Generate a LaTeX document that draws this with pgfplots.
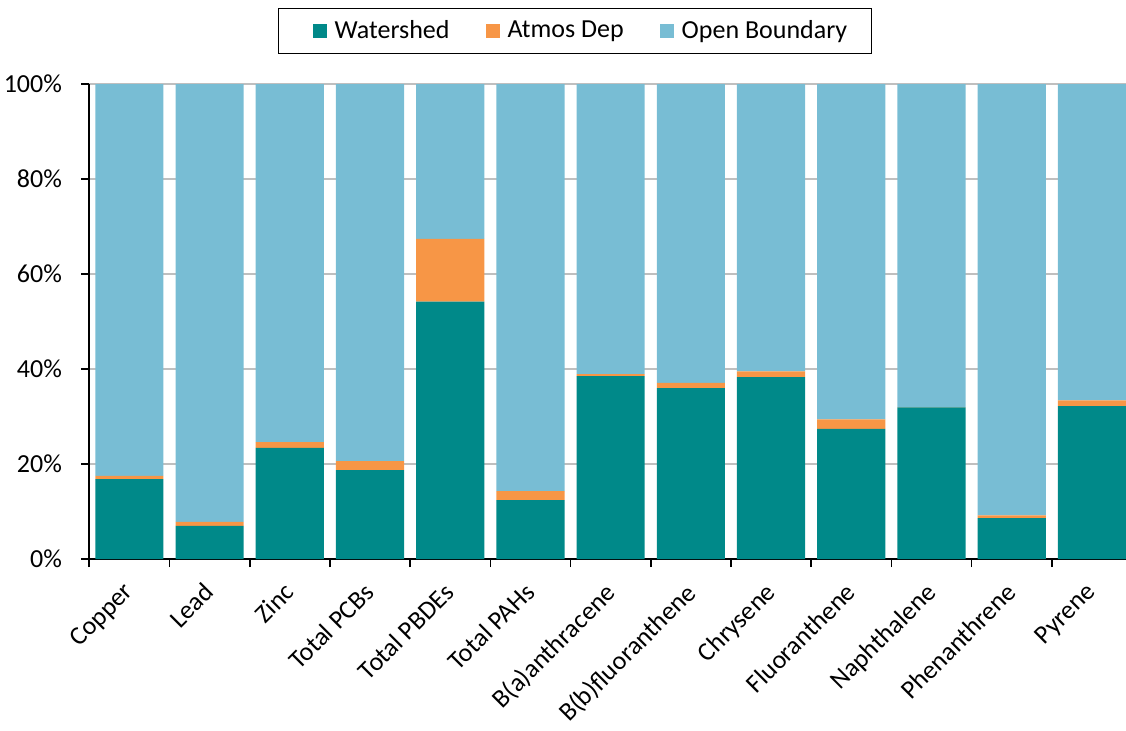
\documentclass[border=0pt]{standalone}
\usepackage{pgfplots}
\pgfplotsset{compat=1.18}
\usepackage{fontspec}
\setmainfont{Carlito}
\definecolor{ws}{RGB}{0,137,137}
\definecolor{ad}{RGB}{247,150,70}
\definecolor{ob}{RGB}{120,189,212}
\definecolor{gridc}{RGB}{191,191,191}
\begin{document}
\begin{tikzpicture}[font=\fontsize{13pt}{15pt}\selectfont]
\begin{axis}[
  scale only axis,
  width=518.35pt, height=237.5pt,
  ybar stacked, bar width=0.85,
  xmin=-0.5, xmax=12.425,
  ymin=0, ymax=100,
  axis x line*=bottom, axis y line*=left,
  axis line style={line width=1pt, black},
  xtick={0,...,12},
  xticklabels={Copper,Lead,Zinc,Total PCBs,Total PBDEs,Total PAHs,B(a)anthracene,B(b)fluoranthene,Chrysene,Fluoranthene,Naphthalene,Phenanthrene,Pyrene},
  major x tick style={draw=none},
  minor xtick={-0.5,0.5,...,11.5},
  minor x tick style={black, line width=0.8pt},
  minor tick length=4pt,
  xticklabel style={xshift=-3.5pt, yshift=-5.5pt, rotate=45, anchor=north east, inner sep=1pt},
  ytick={0,20,...,100},
  yticklabels={0\%,20\%,40\%,60\%,80\%,100\%},
  ytick style={black, line width=0.8pt},
  tick align=outside, major tick length=4pt,
  yticklabel style={inner sep=2pt, xshift=-7.5pt},
  ymajorgrids, grid style={gridc, line width=0.8pt},
  legend columns=3,
  legend style={at={(0.4685,1.16)}, anchor=north, draw=black, line width=0.6pt,
    font=\fontsize{13pt}{15pt}\selectfont, inner xsep=10pt, inner ysep=4pt,
    /tikz/every even column/.append style={column sep=9pt}},
  legend cell align=left,
  myleg/.style={legend image code/.code={\path (-7pt,0pt); \fill[##1] (0pt,-3.5pt) rectangle (7pt,3.5pt); \path (9pt,0pt);}},
]
\coordinate (BL) at (rel axis cs:0,0);
\addplot[fill=ws, draw=none, myleg] coordinates {(0,16.8) (1,7.0) (2,23.4) (3,18.7) (4,54.2) (5,12.4) (6,38.5) (7,36.0) (8,38.3) (9,27.4) (10,31.9) (11,8.6) (12,32.2)};
\addplot[fill=ad, draw=none, myleg] coordinates {(0,0.7) (1,0.8) (2,1.2) (3,1.9) (4,13.2) (5,1.9) (6,0.4) (7,1.1) (8,1.2) (9,2.0) (10,0.1) (11,0.6) (12,1.2)};
\addplot[fill=ob, draw=none, myleg] coordinates {(0,82.5) (1,92.2) (2,75.4) (3,79.4) (4,32.6) (5,85.7) (6,61.1) (7,62.9) (8,60.5) (9,70.6) (10,68.0) (11,90.8) (12,66.6)};
\legend{Watershed, Atmos Dep, Open Boundary}
\end{axis}
\pgfresetboundingbox
\path[use as bounding box] ([shift={(-44.65pt,-85.5pt)}]BL) rectangle ([shift={(518.35pt,279.5pt)}]BL);
\end{tikzpicture}
\end{document}
